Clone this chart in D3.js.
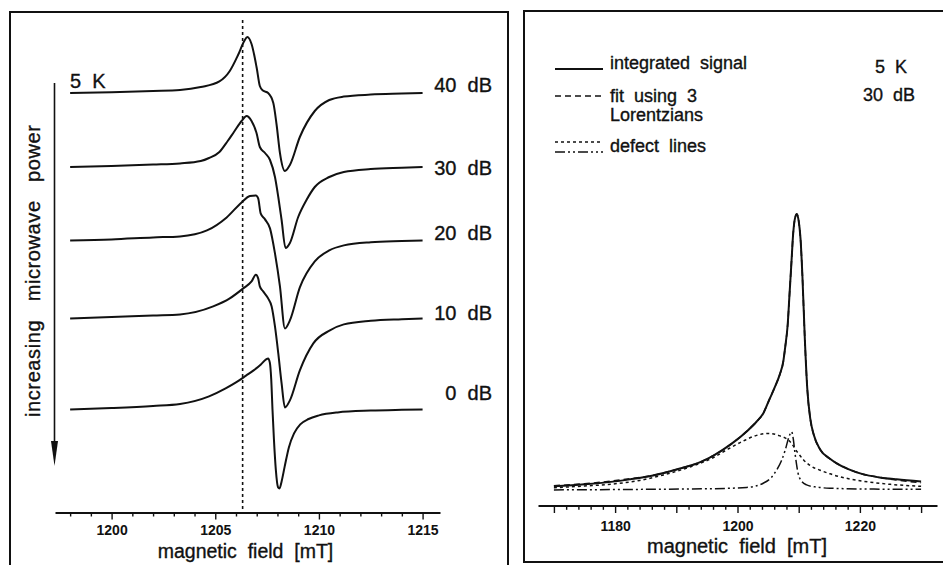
<!DOCTYPE html>
<html><head><meta charset="utf-8">
<script src="https://cdn.jsdelivr.net/npm/d3@7"></script>
<style>
html,body{margin:0;padding:0;background:#fff;}
svg{display:block;font-family:"Liberation Sans",Arial,Helvetica,sans-serif;}
text{white-space:pre;fill:#111;stroke:#111;stroke-width:0.35px;}
</style></head><body>
<svg id="fig" width="943" height="565"></svg>
<script>
// ---------- Left panel: derivative EPR spectra at 5 K, different microwave attenuations ----------
const powerLabels = ["40  dB", "30  dB", "20  dB", "10  dB", "0  dB"];
// vertical offset of each trace (arb. units)
const traceLevels = [209.5, 172.5, 135.8, 96.8, 51.3];
// label baselines relative to each trace level (arb. units)
const labelShift = [0.5, -4, 0.2, -0.8, 4.7];

// [magnetic field (mT), signal (arb. units)]
const trace40 = [[1198,0],[1200,0.4],[1202,1],[1203.3,1.5],[1204.3,3],[1205.2,5.8],[1205.7,11],[1206.1,19],[1206.4,26],[1206.55,28],[1206.75,24.5],[1207.0,12.5],[1207.15,3.5],[1207.3,1.2],[1207.55,0],[1207.8,-5],[1207.96,-16],[1208.12,-30],[1208.36,-39],[1208.6,-36],[1209.08,-22],[1209.8,-9],[1210.5,-3.5],[1211.2,-1.8],[1212.5,-0.8],[1214,-0.3],[1215,0]];
const trace30 = [[1198,0],[1200,0.5],[1202,1.2],[1203.3,1.8],[1204.3,3],[1204.7,4.5],[1205.2,7.5],[1205.6,13],[1205.9,17.5],[1206.27,23],[1206.51,25.5],[1206.75,23],[1206.99,17],[1207.15,10],[1207.4,7],[1207.64,3.5],[1207.88,-5],[1208.04,-15],[1208.2,-26.5],[1208.39,-40.5],[1208.6,-38],[1209.0,-25],[1209.4,-16.5],[1209.8,-10],[1210.5,-5],[1211.2,-2.5],[1212.5,-1],[1214,-0.35],[1215,0]];
const trace20 = [[1198,0],[1200,0.5],[1202,1.5],[1203.3,2],[1204.6,5],[1205.55,11.5],[1206.27,19],[1206.67,22.2],[1206.96,22.5],[1207.07,21],[1207.19,13.5],[1207.4,10.5],[1207.64,6],[1207.88,-6.5],[1208.12,-23],[1208.36,-44],[1208.6,-40],[1209.08,-23.5],[1209.8,-10.5],[1210.5,-5],[1211.2,-2.5],[1212.5,-0.9],[1214,-0.3],[1215,0]];
const trace10 = [[1198,0],[1200,0.7],[1202,1.5],[1203.3,2],[1204.9,6],[1205.7,10],[1206.35,15],[1206.75,18.5],[1206.96,21.8],[1207.07,20],[1207.15,16],[1207.31,13.5],[1207.55,10],[1207.72,6],[1207.88,-4],[1208.04,-17.5],[1208.2,-32.5],[1208.36,-44.5],[1208.6,-41],[1209.08,-26],[1209.73,-12.5],[1210.53,-6],[1211.2,-3],[1212.5,-1.2],[1214,-0.4],[1215,0]];
const trace0 = [[1198,0],[1200,0.7],[1202,1.7],[1203.3,2.7],[1204.7,6.5],[1205.5,10.5],[1206.0,13.5],[1206.5,17],[1206.85,19.5],[1207.2,22.5],[1207.45,25],[1207.55,25.5],[1207.63,23.5],[1207.7,15],[1207.76,0],[1207.83,-15],[1207.92,-30],[1208.03,-39],[1208.1,-39.5],[1208.2,-36],[1208.35,-28.5],[1208.55,-19],[1208.8,-12],[1209.1,-7.5],[1209.5,-4.8],[1210.0,-3],[1210.9,-1.5],[1212.5,-0.6],[1214,-0.2],[1215,0]];
const traces = [trace40, trace30, trace20, trace10, trace0];

const leftTicks = d3.range(1198, 1216);
const leftTickLabels = [1200, 1205, 1210, 1215];
const markerField = 1206.32;

// ---------- Right panel: integrated signal (5 K, 30 dB) and its decomposition ----------
const integratedSignal = [[1170,0.017],[1175,0.024],[1182.4,0.042],[1186,0.055],[1190.6,0.081],[1194,0.105],[1196,0.127],[1199,0.17],[1201.5,0.215],[1203.1,0.25],[1204.2,0.28],[1205.2,0.33],[1206.2,0.38],[1206.9,0.42],[1207.5,0.47],[1207.8,0.52],[1208.2,0.6],[1208.5,0.71],[1208.8,0.82],[1209.1,0.93],[1209.4,0.985],[1209.7,1.0],[1210.0,0.975],[1210.3,0.91],[1210.6,0.78],[1211.0,0.55],[1211.4,0.37],[1211.9,0.26],[1212.5,0.2],[1213.5,0.15],[1215,0.118],[1216.2,0.1],[1218,0.08],[1220.6,0.06],[1223,0.05],[1226,0.042],[1230,0.034]];
const lorentzFit = [[1170,0.019],[1175,0.026],[1182.4,0.044],[1186,0.056],[1190.6,0.081],[1194,0.105],[1196,0.127],[1199,0.17],[1201.5,0.215],[1203.1,0.25],[1204.2,0.28],[1205.2,0.33],[1206.2,0.38],[1206.9,0.42],[1207.5,0.47],[1207.8,0.52],[1208.2,0.6],[1208.5,0.71],[1208.8,0.82],[1209.1,0.93],[1209.4,0.985],[1209.7,1.0],[1210.0,0.975],[1210.3,0.91],[1210.6,0.78],[1211.0,0.55],[1211.4,0.37],[1211.9,0.26],[1212.5,0.2],[1213.5,0.15],[1215,0.118],[1216.2,0.1],[1218,0.08],[1220.6,0.06],[1223,0.05],[1226,0.04],[1230,0.03]];
const broadDefect = [[1170,0.012],[1175,0.018],[1180,0.026],[1184,0.038],[1187.9,0.058],[1192,0.085],[1196,0.12],[1198.5,0.152],[1200.9,0.18],[1203,0.2],[1205,0.208],[1206.8,0.2],[1208.6,0.178],[1209.8,0.14],[1210.8,0.112],[1212,0.09],[1213.5,0.075],[1215.1,0.062],[1218,0.045],[1220.6,0.035],[1225,0.024],[1230,0.017]];
const narrowDefect = [[1170,0.004],[1185,0.006],[1195,0.008],[1201.5,0.013],[1204.2,0.028],[1205.5,0.048],[1206.4,0.076],[1207.2,0.11],[1207.8,0.148],[1208.4,0.195],[1208.85,0.214],[1209.1,0.19],[1209.4,0.136],[1209.9,0.064],[1210.5,0.035],[1211.3,0.022],[1213,0.014],[1215.1,0.01],[1222,0.007],[1230,0.006]];

const rightTicks = d3.range(1170, 1231, 2);
const rightTickLabels = [1180, 1200, 1220];
const legendEntries = ["integrated  signal", "fit  using  3", "defect  lines"];
const conditionLabels = ["5  K", "30  dB"];

// ---------- drawing ----------
const ink = "#111";
const svg = d3.select("#fig");

// panel frames
svg.append("rect").attr("x", 10).attr("y", 12).attr("width", 498).attr("height", 570)
  .attr("fill", "none").attr("stroke", ink).attr("stroke-width", 2);
svg.append("rect").attr("x", 524).attr("y", 11).attr("width", 440).attr("height", 551)
  .attr("fill", "none").attr("stroke", ink).attr("stroke-width", 2);

// ----- left panel -----
const xL = d3.scaleLinear().domain([1197.27, 1215.84]).range([55, 440]);
const yL = d3.scaleLinear().domain([0, 250]).range([512, 12]);
const axisYL = 512.5;

// reference field marker
svg.append("line")
  .attr("x1", xL(markerField)).attr("x2", xL(markerField))
  .attr("y1", 20).attr("y2", axisYL)
  .attr("stroke", ink).attr("stroke-width", 1.6).attr("stroke-dasharray", "3,3");

traces.forEach((tr, i) => {
  const lvl = traceLevels[i];
  const line = d3.line()
    .x(d => xL(d[0]))
    .y(d => yL(lvl + d[1]))
    .curve(d3.curveMonotoneX);
  svg.append("path").attr("d", line(tr))
    .attr("fill", "none").attr("stroke", ink).attr("stroke-width", 2)
    .attr("stroke-linejoin", "round");
  svg.append("text")
    .attr("x", 492).attr("y", yL(lvl + labelShift[i]))
    .attr("text-anchor", "end").attr("font-size", 20)
    .text(powerLabels[i]);
});

svg.append("text").attr("x", 70).attr("y", 88).attr("font-size", 20).text("5  K");

// power arrow
svg.append("line").attr("x1", 54.5).attr("x2", 54.5).attr("y1", 83).attr("y2", 445)
  .attr("stroke", ink).attr("stroke-width", 1.6);
svg.append("path").attr("d", "M51,441 L58,441 L54.5,466 Z").attr("fill", ink);
svg.append("text")
  .attr("transform", "translate(40,271) rotate(-90)")
  .attr("text-anchor", "middle").attr("font-size", 20)
  .attr("textLength", 292).attr("lengthAdjust", "spacing")
  .text("increasing   microwave   power");

// left axis
const axL = svg.append("g").attr("transform", `translate(0,${axisYL})`)
  .call(d3.axisBottom(xL).tickValues(leftTicks).tickSize(4).tickSizeOuter(0)
    .tickFormat(d => leftTickLabels.includes(d) ? d3.format("d")(d) : ""));
axL.attr("font-family", null).attr("font-size", null).attr("color", ink);
axL.select(".domain").attr("stroke-width", 2);
axL.selectAll(".tick line").attr("stroke-width", 1.4)
  .attr("y2", d => leftTickLabels.includes(d) ? 7 : 4);
axL.selectAll(".tick text").attr("y", 12.5).attr("font-size", 14).attr("font-weight", "bold")
  .style("stroke-width", "0px");
svg.append("text").attr("x", 245.5).attr("y", 558).attr("text-anchor", "middle")
  .attr("font-size", 19.5).text("magnetic  field  [mT]");

// ----- right panel -----
const xR = d3.scaleLinear().domain([1167.4, 1232.6]).range([538, 937]);
const yR = d3.scaleLinear().domain([0, 1]).range([491, 214]);
const axisYR = 505.5;
const lineR = d3.line().x(d => xR(d[0])).y(d => yR(d[1])).curve(d3.curveMonotoneX);

const styles = {
  solid: { dash: null, w: 2 },
  fit: { dash: "6,4", w: 1.6 },
  broad: { dash: "3,3", w: 1.5 },
  narrow: { dash: "10,3,2,3,2,3", w: 1.5 }
};
function drawR(data, st) {
  svg.append("path").attr("d", lineR(data)).attr("fill", "none")
    .attr("stroke", ink).attr("stroke-width", st.w)
    .attr("stroke-dasharray", st.dash).attr("stroke-linejoin", "round");
}
drawR(narrowDefect, styles.narrow);
drawR(broadDefect, styles.broad);
drawR(integratedSignal, styles.solid);
drawR(lorentzFit, styles.fit);

// legend
function legendLine(y, st) {
  svg.append("line").attr("x1", 555).attr("x2", 603).attr("y1", y).attr("y2", y)
    .attr("stroke", ink).attr("stroke-width", st.w).attr("stroke-dasharray", st.dash);
}
legendLine(69, styles.solid);
legendLine(96, styles.fit);
legendLine(142, styles.broad);
legendLine(152, styles.narrow);
svg.append("text").attr("x", 610).attr("y", 69).attr("font-size", 18).text(legendEntries[0]);
svg.append("text").attr("x", 610).attr("y", 102).attr("font-size", 18).text(legendEntries[1]);
svg.append("text").attr("x", 610).attr("y", 120.5).attr("font-size", 18).text("Lorentzians");
svg.append("text").attr("x", 610).attr("y", 152).attr("font-size", 18).text(legendEntries[2]);
svg.append("text").attr("x", 875).attr("y", 73).attr("font-size", 18).text(conditionLabels[0]);
svg.append("text").attr("x", 863).attr("y", 101).attr("font-size", 18).text(conditionLabels[1]);

// right axis
const axR = svg.append("g").attr("transform", `translate(0,${axisYR})`)
  .call(d3.axisBottom(xR).tickValues(rightTicks).tickSize(4.3).tickSizeOuter(0)
    .tickFormat(d => rightTickLabels.includes(d) ? d3.format("d")(d) : ""));
axR.attr("font-family", null).attr("font-size", null).attr("color", ink);
axR.select(".domain").attr("stroke-width", 2);
axR.selectAll(".tick line").attr("stroke-width", 1.4)
  .attr("y2", d => d % 10 === 0 ? 7.5 : 4.3);
axR.selectAll(".tick text").attr("y", 15.5).attr("font-size", 14).attr("font-weight", "bold")
  .style("stroke-width", "0px");
svg.append("text").attr("x", 737).attr("y", 553).attr("text-anchor", "middle")
  .attr("font-size", 20).text("magnetic  field  [mT]");
</script>
</body></html>
